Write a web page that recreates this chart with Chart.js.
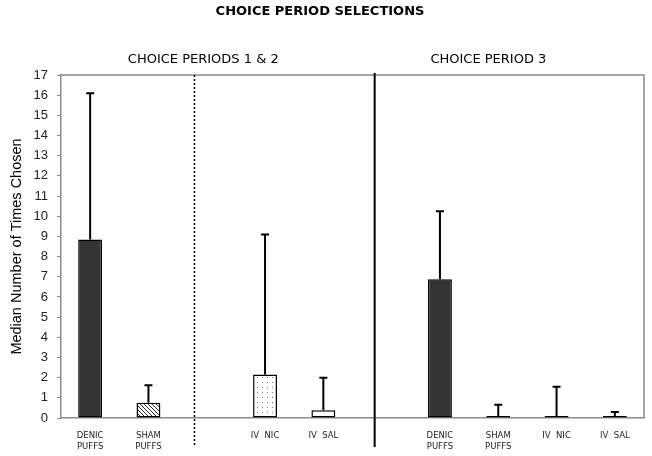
<!DOCTYPE html>
<html>
<head>
<meta charset="utf-8">
<script src="https://cdn.jsdelivr.net/npm/chart.js@4/dist/chart.umd.min.js"></script>
<style>
  html, body { margin: 0; padding: 0; background: #fff; }
  #wrap { width: 652px; height: 456px; position: relative; }
</style>
</head>
<body>
<div id="wrap"><canvas id="c" width="652" height="456"></canvas></div>
<script>
// ---- data ----
const categories = [
  ['DENIC', 'PUFFS'], ['SHAM', 'PUFFS'], '', 'IV  NIC', 'IV  SAL', '',
  ['DENIC', 'PUFFS'], ['SHAM', 'PUFFS'], 'IV  NIC', 'IV  SAL'
];
const medians   = [8.85, 0.75, null, 2.15, 0.38, null, 6.88, 0.1, 0.1, 0.1];
const errorTops = [16.1, 1.62, null, 9.1, 2.0, null, 10.25, 0.66, 1.55, 0.3];
const fillKinds = ['solid', 'hatch', null, 'dots', 'white', null, 'solid', 'white', 'white', 'white'];
const yTicks = [0,1,2,3,4,5,6,7,8,9,10,11,12,13,14,15,16,17];
const chartTitle = 'CHOICE PERIOD SELECTIONS';
const sectionLabels = [
  { text: 'CHOICE PERIODS 1 & 2', at: 1.94 },
  { text: 'CHOICE PERIOD 3', at: 6.83 }
];
const dividers = [
  { at: 1.79, dotted: true },
  { at: 4.88, dotted: false }
];
const yTitle = 'Median Number of Times Chosen';

// ---- patterns ----
function makeHatch() {
  const c = document.createElement('canvas'); c.width = 4; c.height = 4;
  const g = c.getContext('2d');
  g.fillStyle = '#fff'; g.fillRect(0, 0, 4, 4);
  g.strokeStyle = '#222'; g.lineWidth = 1;
  g.beginPath();
  g.moveTo(0, 0); g.lineTo(4, 4);
  g.moveTo(-1, 3); g.lineTo(1, 5);
  g.moveTo(3, -1); g.lineTo(5, 1);
  g.stroke();
  return g.createPattern(c, 'repeat');
}
function makeDots() {
  const c = document.createElement('canvas'); c.width = 5; c.height = 5;
  const g = c.getContext('2d');
  g.fillStyle = '#fff'; g.fillRect(0, 0, 5, 5);
  g.fillStyle = '#777'; g.fillRect(2, 2, 1, 1);
  return g.createPattern(c, 'repeat');
}
const ctx = document.getElementById('c').getContext('2d');
const fills = { solid: '#333333', hatch: makeHatch(), dots: makeDots(), white: '#ffffff' };
const bgColors = fillKinds.map(k => k ? fills[k] : 'rgba(0,0,0,0)');

const AXIS_GRAY = '#8a8a8a';

const extras = {
  id: 'extras',
  afterDatasetsDraw(chart) {
    const { ctx, chartArea: a, scales: { x, y } } = chart;
    ctx.save();
    // top & right frame
    ctx.strokeStyle = AXIS_GRAY; ctx.lineWidth = 1.5;
    ctx.beginPath();
    ctx.moveTo(a.left, a.top); ctx.lineTo(a.right, a.top); ctx.lineTo(a.right, a.bottom);
    ctx.stroke();
    // error bars
    ctx.strokeStyle = '#000'; ctx.lineWidth = 2;
    errorTops.forEach((e, i) => {
      if (e == null) return;
      const px = x.getPixelForValue(i);
      const y0 = y.getPixelForValue(medians[i]);
      const y1 = y.getPixelForValue(e);
      ctx.beginPath();
      ctx.moveTo(px, y0); ctx.lineTo(px, y1);
      ctx.moveTo(px - 4, y1); ctx.lineTo(px + 4, y1);
      ctx.stroke();
    });
    // dividers
    dividers.forEach(d => {
      const px = x.getPixelForValue(d.at);
      ctx.beginPath();
      if (d.dotted) {
        ctx.setLineDash([2, 2]); ctx.lineWidth = 1.5;
        ctx.moveTo(px, a.top); ctx.lineTo(px, 446);
      } else {
        ctx.setLineDash([]); ctx.lineWidth = 2;
        ctx.moveTo(px, a.top - 2); ctx.lineTo(px, 447);
      }
      ctx.strokeStyle = '#000';
      ctx.stroke();
    });
    ctx.setLineDash([]);
    // title & section labels
    ctx.fillStyle = '#000';
    ctx.textAlign = 'center'; ctx.textBaseline = 'middle';
    ctx.font = 'bold 13px "DejaVu Sans", Verdana, sans-serif';
    ctx.fillText(chartTitle, 320, 12);
    ctx.font = '13px "DejaVu Sans", Verdana, sans-serif';
    sectionLabels.forEach(s => {
      ctx.fillText(s.text, x.getPixelForValue(s.at), 60);
    });
    ctx.restore();
  }
};

new Chart(ctx, {
  type: 'bar',
  data: {
    labels: categories,
    datasets: [{
      data: medians,
      backgroundColor: bgColors,
      borderColor: '#000',
      borderWidth: 1.5,
      borderSkipped: false,
      barPercentage: 0.41,
      categoryPercentage: 1.0
    }]
  },
  options: {
    responsive: false,
    animation: false,
    devicePixelRatio: 1,
    layout: { padding: { top: 75, right: 8, left: 0, bottom: 0 } },
    plugins: { legend: { display: false }, tooltip: { enabled: false }, title: { display: false } },
    scales: {
      x: {
        grid: { display: false, drawTicks: false },
        border: { color: AXIS_GRAY, width: 1.5 },
        ticks: {
          color: '#222', padding: 12, maxRotation: 0, autoSkip: false,
          font: { family: '"DejaVu Sans", Verdana, sans-serif', size: 8.5, lineHeight: 1.3 }
        },
        afterFit(s) { s.height = 38; }
      },
      y: {
        min: 0, max: 17,
        afterBuildTicks(s) { s.ticks = yTicks.map(v => ({ value: v })); },
        grid: { display: true, drawOnChartArea: false, drawTicks: true, tickLength: 4, color: AXIS_GRAY, lineWidth: 1 },
        border: { color: AXIS_GRAY, width: 1.5 },
        ticks: {
          color: '#222', padding: 9,
          font: { family: '"Liberation Sans", Arial, sans-serif', size: 13 }
        },
        title: {
          display: true, text: yTitle, color: '#000',
          font: { family: '"Liberation Sans", Arial, sans-serif', size: 14.5 },
          padding: { top: 8, bottom: 0 }
        },
        afterFit(s) { s.width = 61; }
      }
    }
  },
  plugins: [extras]
});
</script>
</body>
</html>
